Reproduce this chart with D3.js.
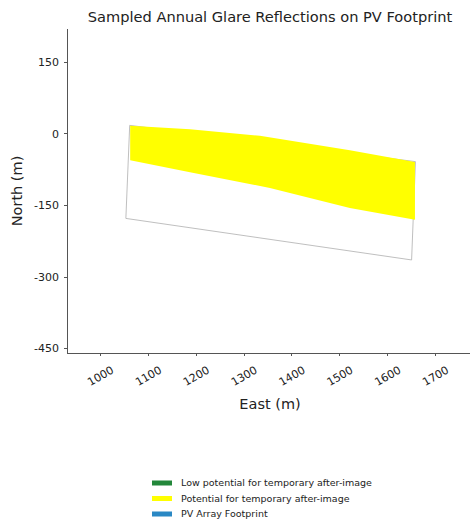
<!DOCTYPE html>
<html lang="en">
<meta charset="utf-8">
<style>
body { margin: 0; background: #fff; }
text { font-family: "DejaVu Sans", sans-serif; fill: #222; }
.axis path, .axis line { stroke: #555; shape-rendering: crispEdges; }
</style>
<body>
<svg width="470" height="528"></svg>
<script src="https://d3js.org/d3.v7.min.js"></script>
<script>

// PV array footprint corners (East m, North m)
var footprintE = [1062, 1659, 1651, 1054];
var footprintN = [17, -59, -265, -178];

// glare band: upper edge then lower edge
var glareTopE = [1063, 1188, 1334, 1522, 1658];
var glareTopN = [16, 9, -5, -35, -60];
var glareBotE = [1063, 1188, 1355, 1522, 1658];
var glareBotN = [-56, -81, -114, -156, -181];

var xTicks = [1000, 1100, 1200, 1300, 1400, 1500, 1600, 1700];
var yTicks = [150, 0, -150, -300, -450];

var legendLabels = ["Low potential for temporary after-image",
                    "Potential for temporary after-image",
                    "PV Array Footprint"];
var legendColors = ["#23873a", "#ffff00", "#2a88c4"];

var svg = d3.select("svg");

var x = d3.scaleLinear().domain([931, 1773]).range([67, 470]);
var y = d3.scaleLinear().domain([-460, 221]).range([353, 28]);

// footprint outline
var fp = footprintE.map(function(e, i) { return [x(e), y(footprintN[i])]; });
svg.append("path")
    .attr("d", d3.line()(fp) + "Z")
    .attr("fill", "none")
    .attr("stroke", "#b8b8b8")
    .attr("stroke-width", 0.9);

// glare band (drawn over the outline)
var band = glareTopE.map(function(e, i) { return [x(e), y(glareTopN[i])]; })
  .concat(glareBotE.map(function(e, i) { return [x(e), y(glareBotN[i])]; }).reverse());

svg.append("path")
    .attr("d", d3.line()(band) + "Z")
    .attr("fill", "#ffff00");

// axes
var fmt = function(d) { return String(d); };

var gx = svg.append("g")
    .attr("class", "axis")
    .attr("transform", "translate(0,353)")
    .call(d3.axisBottom(x).tickValues(xTicks).tickFormat(fmt).tickSize(3).tickSizeOuter(0));
gx.selectAll(".tick text")
    .attr("font-size", 11)
    .attr("text-anchor", "middle")
    .attr("transform", "translate(0,23) rotate(-30)")
    .attr("y", 0)
    .attr("dy", "0.35em");

var gy = svg.append("g")
    .attr("class", "axis")
    .attr("transform", "translate(67,0)")
    .call(d3.axisLeft(y).tickValues(yTicks).tickFormat(fmt).tickSize(3).tickSizeOuter(0));
gy.selectAll(".tick text").attr("font-size", 11).attr("x", -8);
svg.selectAll(".axis text").style("font-family", "DejaVu Sans, sans-serif").attr("fill", "#222");

// titles
svg.append("text")
    .attr("x", 270).attr("y", 22)
    .attr("text-anchor", "middle")
    .attr("font-size", 14.6)
    .text("Sampled Annual Glare Reflections on PV Footprint");

svg.append("text")
    .attr("x", 270).attr("y", 409)
    .attr("text-anchor", "middle")
    .attr("font-size", 14.5)
    .text("East (m)");

svg.append("text")
    .attr("transform", "translate(22,191) rotate(-90)")
    .attr("text-anchor", "middle")
    .attr("font-size", 14.5)
    .text("North (m)");

// legend
var leg = svg.append("g").attr("transform", "translate(152,483)");
var item = leg.selectAll("g")
  .data(legendLabels)
  .enter().append("g")
    .attr("transform", function(d, i) { return "translate(0," + (i * 15.5) + ")"; });
item.append("rect")
    .attr("x", 0).attr("y", -2.5)
    .attr("width", 20).attr("height", 5)
    .attr("fill", function(d, i) { return legendColors[i]; });
item.append("text")
    .attr("x", 29).attr("dy", "0.35em")
    .attr("font-size", 9.5)
    .text(function(d) { return d; });

</script>
</body>
</html>
